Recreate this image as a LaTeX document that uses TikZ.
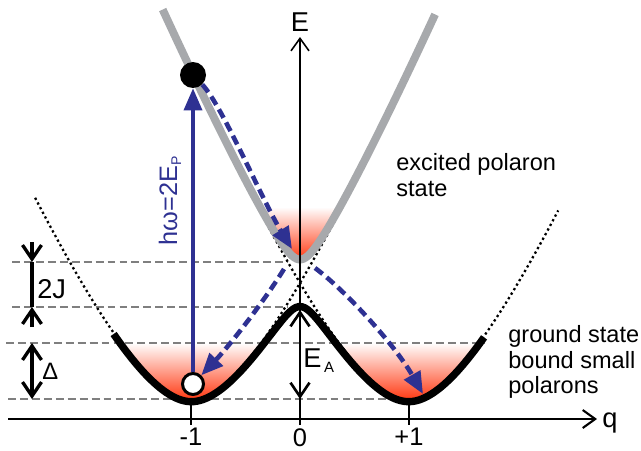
\documentclass[tikz,border=0pt]{standalone}
\usepackage{fontspec}
\setmainfont{Liberation Sans}
\usetikzlibrary{arrows.meta}
\definecolor{ink}{HTML}{000000}
\definecolor{navy}{HTML}{2E3192}
\definecolor{curve}{HTML}{A7A9AC}
\definecolor{mute}{HTML}{7F7F7F}
\definecolor{hot}{HTML}{FF2A00}
\definecolor{warm}{HTML}{FB9166}

\begin{document}
\begin{tikzpicture}[
  x=0.02cm, y=-0.02cm, ink,
  font=\fontsize{13.4}{14.6}\selectfont,
  declare function={
    fq(\dd)=2.037*\dd*\dd/(1+0.741*abs(\dd));
    dia(\qq)=fq(\qq+1);
    dib(\qq)=fq(\qq-1);
    adlo(\qq)=(dia(\qq)+dib(\qq))/2-veclen((dia(\qq)-dib(\qq))/2,0.235);
    adhi(\qq)=(dia(\qq)+dib(\qq))/2+veclen((dia(\qq)-dib(\qq))/2,0.235);
  },
  big/.style={font=\fontsize{15.5}{17}\selectfont, inner sep=0pt},
  note/.style={align=left, inner sep=0pt, anchor=north west},
  level/.style={draw=mute, line width=1.3pt, dash pattern=on 4.5pt off 2.3pt},
  diabat/.style={line width=1.3pt, dash pattern=on 1.3pt off 1.7pt},
  lower/.style={line width=4.2pt},
  upper/.style={draw=curve, line width=4.5pt},
  axis/.style={line width=1.2pt, -{Straight Barb[length=2.5mm, width=3.6mm]}},
  span/.style={line width=1.9pt},
  barb/.tip={Straight Barb[length=2.8mm, width=3.8mm]},
  pump/.style={draw=navy, line width=2pt, -{Triangle[length=4.4mm, width=3.6mm]}},
  relax/.style={draw=navy, line width=2.6pt, dash pattern=on 5.5pt off 3pt,
                -{Triangle[length=4.4mm, width=3.6mm]}},
  well/.style={top color=white, middle color=warm, bottom color=hot},
]
\useasboundingbox (0,0) rectangle (641,450);

% ---- populated wells -------------------------------------------------------
\begin{scope}
  \clip plot[domain=-1.71:-0.2, samples=60] ({300+109*\x}, {400-100*adlo(\x)}) -- cycle;
  \shade[well] (100,343) rectangle (300,404);
\end{scope}
\begin{scope}
  \clip plot[domain=0.2:1.71, samples=60] ({300+109*\x}, {400-100*adlo(\x)}) -- cycle;
  \shade[well] (300,343) rectangle (500,404);
\end{scope}
\begin{scope}
  \clip plot[domain=-0.6:0.6, samples=60] ({300+109*\x}, {400-100*adhi(\x)}) -- cycle;
  \shade[well] (230,207) rectangle (370,264);
\end{scope}

% ---- reference levels ------------------------------------------------------
\draw[level] (12,262) -- (288,262);
\draw[level] (12,307) -- (288,307);
\draw[level] (6,343) -- (485,343);
\draw[level] (8,399) -- (409,399);

% ---- diabatic parabolas ----------------------------------------------------
\draw[diabat] plot[domain=-2.43:0.62, samples=90] ({300+109*\x}, {400-100*dia(\x)});
\draw[diabat] plot[domain=-0.62:2.37, samples=90] ({300+109*\x}, {400-100*dib(\x)});

% ---- excited branch --------------------------------------------------------
\draw[upper] plot[domain=-1.26:1.24, samples=121, smooth] ({300+109*\x}, {400-100*adhi(\x)});

% ---- axes ------------------------------------------------------------------
\coordinate (qfrom) at (8,419);
\coordinate (qto)   at (597,419);
\coordinate (efrom) at (300,425);
\coordinate (eto)   at (300,37);
\draw[axis] (qfrom) -- (qto);
\draw[axis, line width=0.9pt] (efrom) -- (eto);
\node[big, anchor=base west] (qlab) at (602,427) {q};
\node[big, anchor=north] (elab) at (300,12) {E};

\foreach \t/\lab in {-1/-1, 0/0, 1/+1} {
  \draw[line width=1.2pt] ({300+109*\t},402) -- ({300+109*\t},425);
  \node[inner sep=0pt, anchor=north, font=\fontsize{14.5}{16}\selectfont]
    (tick\t) at ({300+109*\t},428) {\lab};
}

% ---- ground branch ---------------------------------------------------------
\draw[lower] plot[domain=-1.71:1.69, samples=121, smooth] ({300+109*\x}, {400-100*adlo(\x)});

% ---- 2J, Delta, E_A --------------------------------------------------------
\coordinate (jhi)  at (32,242);
\coordinate (jtop) at (32,262);
\coordinate (jbot) at (32,307);
\coordinate (jlo)  at (32,327);
\draw[span, -barb] (jhi) -- (jtop);
\draw[span] (jtop) -- (jbot);
\draw[span, -barb] (jlo) -- (jbot);
\node[big, anchor=base west] (jlab) at (37,298) {2J};

\coordinate (dtop) at (32,343);
\coordinate (dbot) at (32,399);
\draw[span, barb-barb] (dtop) -- (dbot);
\node[inner sep=0pt, anchor=base west, font=\fontsize{13.5}{15}\selectfont] (dlab) at (42,379) {Δ};

\coordinate (atop) at (300,310);
\coordinate (abot) at (300,399);
\draw[span, line width=1.5pt, barb-barb] (atop) -- (abot);
\node[big, anchor=base west] (alab) at (303,367)
  {E\kern1.5pt\raisebox{-0.1cm}{\fontsize{8.5}{9}\selectfont A}};

% ---- optical excitation and relaxation -------------------------------------
\node[circle, fill=ink, inner sep=0pt, minimum size=0.52cm] (exc) at (193,75) {};
\node[circle, draw=ink, fill=white, line width=1.7pt, inner sep=0pt,
      minimum size=0.42cm] (hole) at (193,384) {};
\draw[pump] (hole) -- (exc);
\node[rotate=90, anchor=base, inner sep=0pt, text=navy,
      font=\fontsize{14.4}{16}\selectfont] (plab) at (177,201)
  {hω=2E\raisebox{-0.08cm}{\fontsize{8}{9}\selectfont P}};

\coordinate (upmin)    at (292,249);
\coordinate (crossl)   at (284,269);
\coordinate (crossr)   at (315,268);
\coordinate (rightmin) at (423,394);
\draw[relax] (exc) .. controls (222,105) and (262,200) .. (upmin);
\draw[relax] (crossl) .. controls (265,300) and (230,345) .. (hole);
\draw[relax] (crossr) .. controls (345,290) and (395,345) .. (rightmin);

% ---- captions --------------------------------------------------------------
\node[note] (exclab) at (396,153) {excited polaron\\state};
\node[note] (gndlab) at (508,325) {ground state\\bound small\\polarons};

\end{tikzpicture}
\end{document}
